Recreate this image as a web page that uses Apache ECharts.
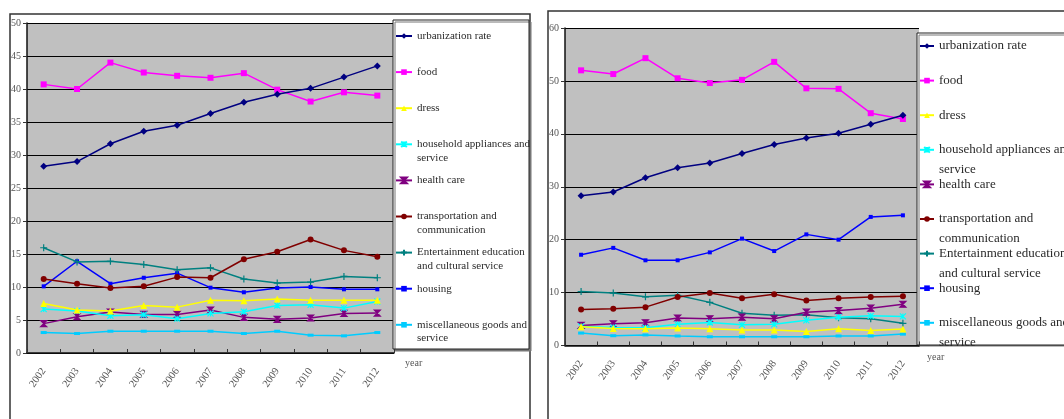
<!DOCTYPE html>
<html>
<head>
<meta charset="utf-8">
<script src="https://cdn.jsdelivr.net/npm/echarts@6/dist/echarts.min.js"></script>
<style>
  html, body { margin: 0; padding: 0; background: #fff; }
  #chart { width: 1064px; height: 419px; }
</style>
</head>
<body>
<div id="chart"></div>
<script>
// Categories
const years = ['2002', '2003', '2004', '2005', '2006', '2007', '2008', '2009', '2010', '2011', '2012'];

// Series names (legend order)
const seriesNames = [
  'urbanization rate',
  'food',
  'dress',
  'household appliances and service',
  'health care',
  'transportation and communication',
  'Entertainment education and cultural service',
  'housing',
  'miscellaneous goods and service'
];

// Legend text as it is printed (wrapped lines)
const legendText = {
  'urbanization rate': 'urbanization rate',
  'food': 'food',
  'dress': 'dress',
  'household appliances and service': 'household appliances and\nservice',
  'health care': 'health care',
  'transportation and communication': 'transportation and\ncommunication',
  'Entertainment education and cultural service': 'Entertainment education\nand cultural service',
  'housing': 'housing',
  'miscellaneous goods and service': 'miscellaneous goods and\nservice'
};

// Urbanization rate (%) — shared by both panels
const urbanizationRate = [28.3, 29.0, 31.7, 33.6, 34.5, 36.3, 38.0, 39.2, 40.1, 41.8, 43.5];

// Panel 1: consumption structure (%)
const food1      = [40.7, 40.0, 44.0, 42.5, 42.0, 41.7, 42.4, 39.9, 38.1, 39.5, 39.0];
const dress1     = [7.5, 6.5, 6.35, 7.2, 6.95, 8.0, 7.9, 8.2, 8.0, 8.0, 8.0];
const household1 = [6.65, 6.35, 5.65, 5.8, 5.2, 6.0, 6.25, 7.2, 7.3, 6.8, 7.8];
const health1    = [4.45, 5.5, 6.2, 5.85, 5.85, 6.5, 5.4, 5.1, 5.3, 6.0, 6.05];
const transport1 = [11.2, 10.5, 9.85, 10.1, 11.5, 11.4, 14.2, 15.35, 17.2, 15.55, 14.6];
const culture1   = [15.95, 13.8, 13.9, 13.4, 12.6, 12.9, 11.2, 10.6, 10.75, 11.6, 11.4];
const housing1   = [10.1, 13.9, 10.5, 11.4, 12.1, 9.9, 9.2, 9.85, 10.0, 9.65, 9.65];
const misc1      = [3.1, 2.95, 3.3, 3.3, 3.3, 3.3, 2.95, 3.3, 2.7, 2.6, 3.1];

// Panel 2: consumption structure (%)
const food2      = [52.0, 51.3, 54.3, 50.5, 49.6, 50.2, 53.6, 48.6, 48.5, 43.9, 42.8];
const dress2     = [3.55, 3.2, 3.15, 3.3, 3.15, 2.95, 2.95, 2.65, 3.15, 2.85, 3.1];
const household2 = [3.6, 3.4, 3.35, 4.0, 4.35, 3.9, 4.0, 4.75, 5.35, 5.6, 5.5];
const health2    = [3.8, 4.1, 4.3, 5.2, 5.05, 5.35, 5.05, 6.3, 6.6, 7.05, 7.8];
const transport2 = [6.8, 6.95, 7.25, 9.15, 9.9, 8.95, 9.7, 8.5, 8.95, 9.15, 9.3];
const culture2   = [10.2, 9.9, 9.2, 9.5, 8.15, 6.1, 5.7, 5.8, 5.25, 5.05, 4.2];
const housing2   = [17.15, 18.45, 16.1, 16.1, 17.6, 20.2, 17.85, 21.0, 20.0, 24.3, 24.6];
const misc2      = [2.35, 1.85, 2.0, 1.8, 1.65, 1.65, 1.65, 1.65, 1.8, 1.8, 2.15];

const panel1 = [urbanizationRate, food1, dress1, household1, health1, transport1, culture1, housing1, misc1];
const panel2 = [urbanizationRate, food2, dress2, household2, health2, transport2, culture2, housing2, misc2];

// Marker shapes
const ASTERISK = 'path://M0,0L10,10M10,0L0,10M5,0L5,10';
const PLUS = 'path://M5,0L5,10M0,5L10,5';
const HOURGLASS = 'path://M0,0L10,0L0,10L10,10Z';

const looks = [
  { color: '#000080', symbol: 'diamond', size: 7 },
  { color: '#FF00FF', symbol: 'rect', size: 6 },
  { color: '#FFFF00', symbol: 'triangle', size: 7 },
  { color: '#00FFFF', symbol: ASTERISK, size: 6, stroke: true },
  { color: '#800080', symbol: HOURGLASS, size: 6, stroke: true },
  { color: '#800000', symbol: 'circle', size: 6 },
  { color: '#008080', symbol: PLUS, size: 7, stroke: true },
  { color: '#0000FF', symbol: 'rect', size: 4 },
  { color: '#00CCFF', symbol: 'rect', size: [6, 3] }
];

const serif = "'Liberation Serif', 'DejaVu Serif', serif";

function makeSeries(values, gi) {
  return values.map((data, i) => {
    const lk = looks[i];
    return {
      name: seriesNames[i],
      type: 'line',
      xAxisIndex: gi,
      yAxisIndex: gi,
      data: data,
      symbol: lk.symbol,
      symbolSize: lk.size,
      showAllSymbol: true,
      silent: true,
      lineStyle: { color: lk.color, width: 1.5 },
      itemStyle: { color: lk.color, borderColor: lk.color, borderWidth: lk.stroke ? 1.2 : 0 },
      emphasis: { disabled: true },
      z: 2 + (values.length - i)
    };
  });
}

// One legend entry per component so each row sits at a fixed pitch
function makeLegends(left, firstY, pitch, lineH, fontSize, itemWidth) {
  return seriesNames.map((name, i) => {
    const cy = firstY + pitch * i;
    const twoLines = legendText[name].indexOf('\n') >= 0;
    return {
      data: [name],
      orient: 'vertical',
      left: left,
      top: twoLines ? cy - 1.5 * lineH : cy - lineH / 2,
      itemWidth: itemWidth,
      itemHeight: 7,
      itemGap: 0,
      padding: 0,
      selectedMode: false,
      formatter: (n) => (legendText[n].indexOf('\n') >= 0 ? '\n' + legendText[n] : legendText[n]),
      textStyle: { fontFamily: serif, fontSize: fontSize, lineHeight: lineH, color: '#2a2a2a' }
    };
  });
}

function makeX(gi, nameGap, namePadTop) {
  return {
    type: 'category',
    gridIndex: gi,
    data: years,
    boundaryGap: true,
    z: 6,
    name: 'year',
    nameLocation: 'end',
    nameGap: nameGap,
    nameTextStyle: {
      fontFamily: serif, fontSize: 10, color: '#555',
      align: 'left', verticalAlign: 'top', lineHeight: 12,
      padding: [namePadTop, 0, 0, 0]
    },
    axisLine: { show: true, lineStyle: { color: '#111', width: 1.5 } },
    axisTick: { show: true, inside: true, length: 4, lineStyle: { color: '#333' } },
    axisLabel: { rotate: 55, margin: 16, fontFamily: serif, fontSize: 10.5, color: '#555' },
    splitLine: { show: false }
  };
}

function makeY(gi, max, interval) {
  return {
    type: 'value',
    gridIndex: gi,
    min: 0,
    max: max,
    interval: interval,
    axisLine: { show: true, lineStyle: { color: '#111', width: 1.5 } },
    axisTick: { show: true, length: 4, lineStyle: { color: '#333' } },
    axisLabel: { margin: 6, fontFamily: serif, fontSize: 10, color: '#555' },
    splitLine: { show: true, lineStyle: { color: '#000', width: 1 } }
  };
}

const chart = echarts.init(document.getElementById('chart'), null, { renderer: 'canvas' });

chart.setOption({
  animation: false,
  backgroundColor: '#fff',
  grid: [
    { left: 27, top: 23, width: 367, height: 330, show: true, backgroundColor: '#C0C0C0', borderWidth: 0 },
    { left: 565, top: 28, width: 354, height: 317.5, show: true, backgroundColor: '#C0C0C0', borderWidth: 0 }
  ],
  xAxis: [makeX(0, 11, 4), makeX(1, 8, 6)],
  yAxis: [makeY(0, 50, 5), makeY(1, 60, 10)],
  legend: [
    ...makeLegends(395, 36, 36.1, 13.5, 11, 16),
    ...makeLegends(919, 46, 34.6, 19.5, 13, 14)
  ],
  graphic: [
    // outer frames
    { type: 'rect', shape: { x: 10, y: 14, width: 520, height: 430 }, style: { fill: 'none', stroke: '#333', lineWidth: 1.5 }, z: 0, silent: true },
    { type: 'rect', shape: { x: 548, y: 11, width: 540, height: 430 }, style: { fill: 'none', stroke: '#333', lineWidth: 1.5 }, z: 0, silent: true },
    // legend boxes
    { type: 'rect', shape: { x: 393, y: 20, width: 136, height: 329 }, style: { fill: '#fff', stroke: '#222', lineWidth: 1, shadowColor: '#777', shadowOffsetX: 2, shadowOffsetY: 2 }, z: 1, silent: true },
    { type: 'rect', shape: { x: 917, y: 33, width: 170, height: 312 }, style: { fill: '#fff', stroke: '#222', lineWidth: 1, shadowColor: '#777', shadowOffsetX: 2, shadowOffsetY: 2 }, z: 1, silent: true },
    // trims legend text that runs below the right legend box
    { type: 'rect', shape: { x: 916, y: 346.5, width: 150, height: 80 }, style: { fill: '#fff' }, z: 5, silent: true }
  ],
  series: [...makeSeries(panel1, 0), ...makeSeries(panel2, 1)]
});
</script>
</body>
</html>
